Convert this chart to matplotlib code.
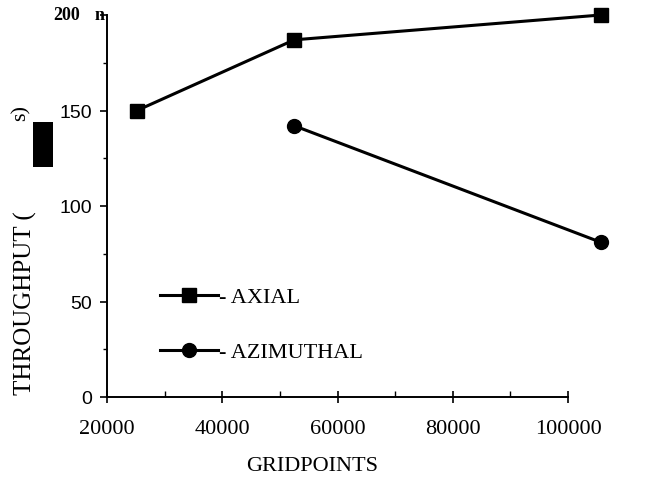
import matplotlib
matplotlib.use("Agg")
import matplotlib.pyplot as plt
from matplotlib.ticker import MultipleLocator
from matplotlib.patches import Rectangle

# Data
axial_x = [25200, 52500, 105700]
axial_y = [150, 187, 200]
azim_x = [52500, 105700]
azim_y = [142, 81]
x_ticks = [20000, 40000, 60000, 80000, 100000]
y_ticks = [0, 50, 100, 150, 200]
series_names = ["- AXIAL", "- AZIMUTHAL"]

serif = ["Liberation Serif", "DejaVu Serif"]
sans = ["Liberation Sans", "DejaVu Sans"]

fig = plt.figure(figsize=(6.51, 4.85), dpi=100)
ax = fig.add_axes([107/651, 1-398/485, (568-107)/651, (398-16)/485])

ax.plot(axial_x, axial_y, color="black", lw=2.2, marker="s", ms=10,
        clip_on=False, label=series_names[0], zorder=5)
ax.plot(azim_x, azim_y, color="black", lw=2.2, marker="o", ms=10,
        clip_on=False, label=series_names[1], zorder=5)

ax.set_xlim(20000, 100000)
ax.set_ylim(0, 200)
ax.set_xticks(x_ticks)
ax.set_yticks(y_ticks)
ax.xaxis.set_minor_locator(MultipleLocator(10000))
ax.yaxis.set_minor_locator(MultipleLocator(25))
for s in ["top", "right"]:
    ax.spines[s].set_visible(False)
for s in ["left", "bottom"]:
    ax.spines[s].set_linewidth(1.4)

ax.tick_params(axis="x", which="major", direction="inout", length=8, width=1.2, pad=12)
ax.tick_params(axis="x", which="minor", direction="in", length=4, width=1.0)
ax.tick_params(axis="y", which="major", direction="out", length=5, width=1.2, pad=6)
ax.tick_params(axis="y", which="minor", direction="out", length=3, width=1.0)

ax.set_xticklabels([str(v) for v in x_ticks], fontfamily=serif, fontsize=16)
ylab_text = [str(v) for v in y_ticks]
ax.set_yticklabels(ylab_text[:-1] + [""], fontfamily=sans, fontsize=14)
# top tick label is rendered in bold serif in the reference
fig.text(80/651, 1-15/485, ylab_text[-1], fontfamily=serif, fontweight="bold", fontsize=13,
         ha="right", va="center")
fig.text(100/651, 1-15/485, "n", fontfamily=serif, fontweight="bold", fontsize=13,
         ha="center", va="center")

fig.text(312/651, 1-467/485, "GRIDPOINTS", fontfamily=serif, fontsize=16,
         ha="center", va="center")
fig.text(25/651, 1-395/485, "THROUGHPUT (", rotation=90, ha="center", va="bottom",
         fontfamily=serif, fontsize=18)
fig.text(21/651, 1-113/485, "s)", rotation=90, ha="center", va="center",
         fontfamily=serif, fontsize=16)
fig.patches.append(Rectangle((33/651, 1-168/485), 20/651, 45/485, transform=fig.transFigure,
                             facecolor="black", edgecolor="none"))

leg = ax.legend(loc="upper left", bbox_to_anchor=((151-107)/(568-107), (398-279)/(398-16)),
                frameon=False, prop={"family": serif, "size": 16}, handlelength=2.6,
                handletextpad=0.05, labelspacing=1.55, borderaxespad=0)

fig.savefig("out.png", dpi=100)
